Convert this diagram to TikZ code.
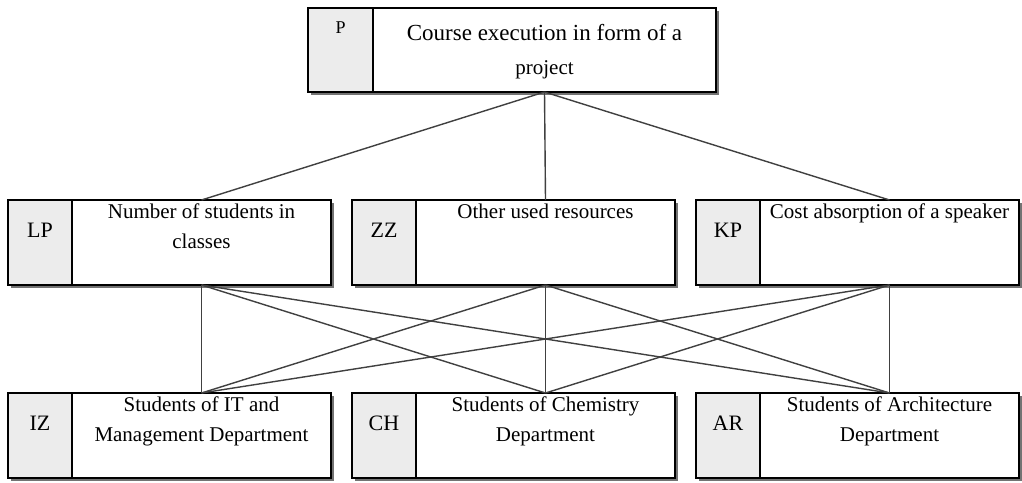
\documentclass[tikz,border=0pt]{standalone}
\usepackage{fontspec}
\setmainfont{Liberation Serif}
\usetikzlibrary{positioning,shadows}

\tikzset{shadowed/.style={drop shadow={shadow xshift=3pt,shadow yshift=-3pt,fill=black!55,opacity=1}}}

\begin{document}
\begin{tikzpicture}[x=1pt,y=-1pt,
    code/.style={draw,line width=1.2pt,fill=gray!15,inner sep=0pt,outer sep=0pt,
      minimum width=64pt,minimum height=85pt,font=\fontsize{22}{26}\selectfont,
      text height=14.5pt,text depth=25.5pt,shadowed},
    body/.style={draw,line width=1.2pt,fill=white,inner sep=0pt,outer sep=0pt,
      minimum width=259pt,minimum height=85pt,shadowed},
    caption/.style={align=center,inner sep=0pt,font=\fontsize{21}{30}\selectfont},
    link/.style={draw=black!75,line width=1.4pt}]
  \fill[white] (0,0) rectangle (1022,482);
  \useasboundingbox (0,0) rectangle (1022,482);

  % top: the project
  \node[code,anchor=north west,minimum width=65pt,minimum height=84pt,
        font=\fontsize{18}{22}\selectfont,text height=12pt,text depth=46pt] (pcode) at (308,8) {P};
  \node[body,minimum width=343pt,minimum height=84pt,right=0pt of pcode] (p) {};
  \node[caption,font=\fontsize{23}{30}\selectfont,below=16pt of p.north] (ptext)
    {Course execution in form of a\\[4pt]{\fontsize{21}{25}\selectfont project}};

  % criteria
  \node[code,anchor=north west] (lpcode) at (8,200) {LP};
  \node[body,right=0pt of lpcode] (lp) {};
  \node[caption,below=4pt of lp.north] (lptext) {Number of students in\\classes};
  \node[code,anchor=north west] (zzcode) at (352,200) {ZZ};
  \node[body,right=0pt of zzcode] (zz) {};
  \node[caption,below=4pt of zz.north] (zztext) {Other used resources};
  \node[code,anchor=north west] (kpcode) at (696,200) {KP};
  \node[body,right=0pt of kpcode] (kp) {};
  \node[caption,below=4pt of kp.north] (kptext) {Cost absorption of a speaker};

  % alternatives
  \node[code,anchor=north west] (izcode) at (8,393) {IZ};
  \node[body,right=0pt of izcode] (iz) {};
  \node[caption,below=4pt of iz.north] (iztext) {Students of IT and\\Management Department};
  \node[code,anchor=north west] (chcode) at (352,393) {CH};
  \node[body,right=0pt of chcode] (ch) {};
  \node[caption,below=4pt of ch.north] (chtext) {Students of Chemistry\\Department};
  \node[code,anchor=north west] (arcode) at (696,393) {AR};
  \node[body,right=0pt of arcode] (ar) {};
  \node[caption,below=4pt of ar.north] (artext) {Students of Architecture\\Department};

  \path[link]
    (p.south) edge (lp.north)
    (p.south) edge (zz.north)
    (p.south) edge (kp.north);
  \foreach \crit in {lp,zz,kp}
    \foreach \alt in {iz,ch,ar}
      \draw[link] (\crit.south) -- (\alt.north);
\end{tikzpicture}
\end{document}
